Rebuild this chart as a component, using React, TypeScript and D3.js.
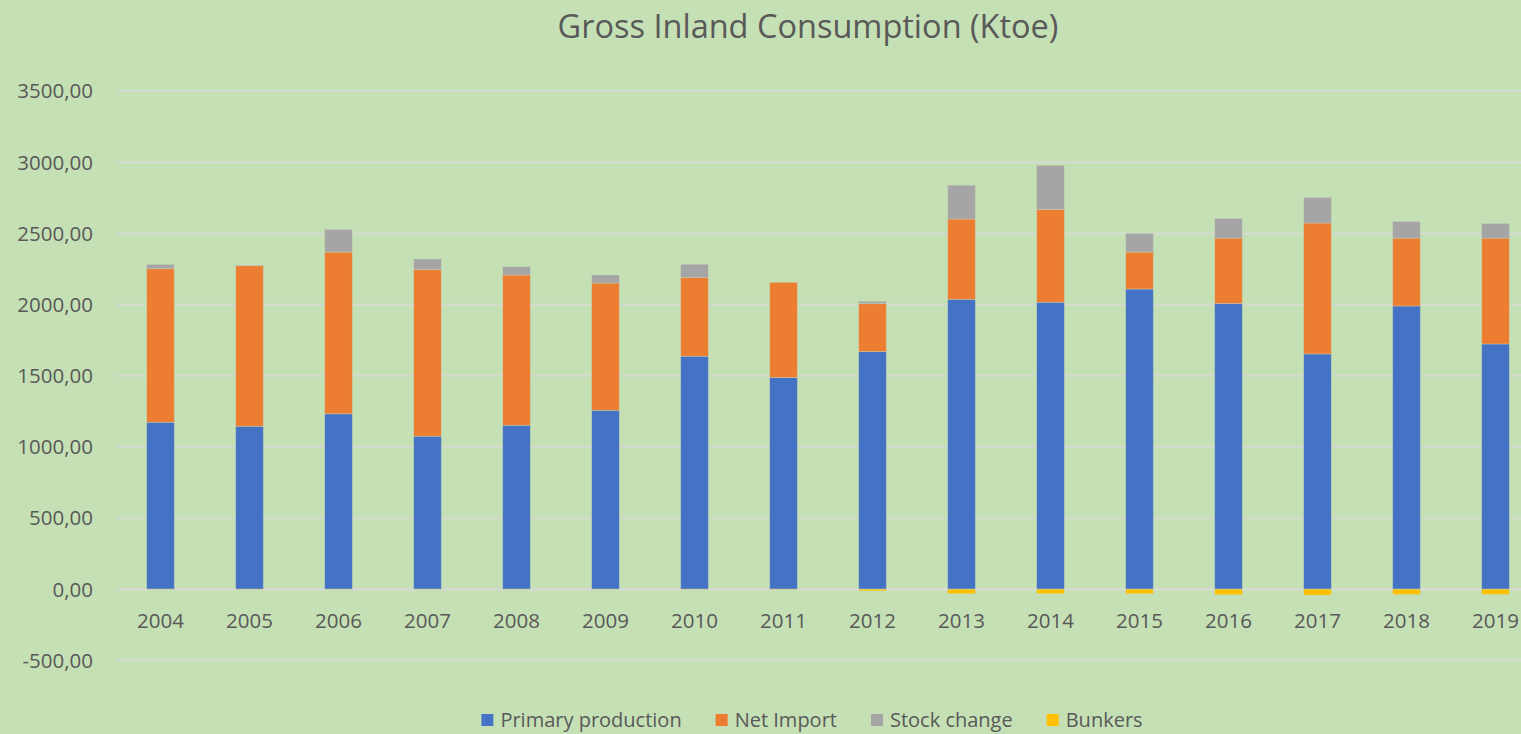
import React, { useEffect, useRef } from 'react'
import * as d3 from 'd3'

// data (Ktoe)
const years = ['2004', '2005', '2006', '2007', '2008', '2009', '2010', '2011', '2012', '2013', '2014', '2015', '2016', '2017', '2018', '2019']
const primaryProduction = [1173, 1145, 1232, 1075, 1152, 1257, 1637, 1487, 1669, 2037, 2016, 2109, 2007, 1653, 1990, 1723]
const netImport = [1079, 1128, 1137, 1170, 1056, 894, 554, 669, 337, 564, 653, 260, 460, 920, 477, 744]
const stockChange = [30, 4, 159, 75, 58, 57, 92, 0, 17, 238, 309, 131, 138, 180, 117, 103]
const bunkers = [-2, -2, -2, -2, -2, -2, -2, -3, -12, -32, -32, -32, -39, -42, -37, -37]

const seriesNames = ['Primary production', 'Net Import', 'Stock change', 'Bunkers']
const seriesColors = ['#4472C4', '#ED7D31', '#A5A5A5', '#FFC000']
const yTicks = [-500, 0, 500, 1000, 1500, 2000, 2500, 3000, 3500]

const W = 1521, H = 734
const font = "'Open Sans', sans-serif"
const textColor = '#595959'

const App = () => {
    const ref = useRef<SVGSVGElement>(null)

    useEffect(() => {
        const svg = d3.select(ref.current)
        svg.selectAll('*').remove()

        const rows = years.map((y, i) => ({
            year: y,
            'Primary production': primaryProduction[i],
            'Net Import': netImport[i],
            'Stock change': stockChange[i],
            'Bunkers': bunkers[i],
        }))

        const x = d3.scaleBand().domain(years).range([116, 1540]).paddingInner(0.69).paddingOuter(0.345)
        const y = d3.scaleLinear().domain([-500, 3500]).range([660.3, 91.1])

        svg.append('rect').attr('width', W).attr('height', H).attr('fill', '#C5E0B4')

        // title
        svg.append('text')
            .attr('x', 808).attr('y', 38)
            .attr('text-anchor', 'middle')
            .style('font-family', font).style('font-size', '32.5px')
            .attr('fill', textColor)
            .text('Gross Inland Consumption (Ktoe)')

        // gridlines
        svg.append('g').selectAll('line')
            .data(yTicks)
            .enter().append('line')
            .attr('x1', 116).attr('x2', W)
            .attr('y1', d => y(d)).attr('y2', d => y(d))
            .attr('stroke', '#D9D9D9')
            .attr('stroke-width', d => d === 0 ? 2 : 1.5)

        // y tick labels
        svg.append('g').selectAll('text')
            .data(yTicks)
            .enter().append('text')
            .attr('x', 93).attr('y', d => y(d))
            .attr('dy', '0.36em')
            .attr('text-anchor', 'end')
            .style('font-family', font).style('font-size', '20.5px')
            .attr('fill', textColor)
            .text(d => d.toFixed(2).replace('.', ','))

        // stacked bars
        const stacked = d3.stack<any>().keys(seriesNames).offset(d3.stackOffsetDiverging)(rows)
        svg.append('g').selectAll('g')
            .data(stacked)
            .enter().append('g')
            .attr('fill', (d, i) => seriesColors[i])
            .selectAll('rect')
            .data(d => d)
            .enter().append('rect')
            .attr('x', d => x(d.data.year)!)
            .attr('width', x.bandwidth())
            .attr('y', d => y(Math.max(d[0], d[1])))
            .attr('height', d => Math.abs(y(d[0]) - y(d[1])))
            .attr('stroke', 'rgba(200,220,190,0.5)')
            .attr('stroke-width', 0.75)

        // x labels
        svg.append('g').selectAll('text')
            .data(years)
            .enter().append('text')
            .attr('x', d => x(d)! + x.bandwidth() / 2)
            .attr('y', 628)
            .attr('text-anchor', 'middle')
            .style('font-family', font).style('font-size', '20.5px')
            .attr('fill', textColor)
            .text(d => d)

        // legend
        const legend = svg.append('g')
        const items = legend.selectAll('g')
            .data(seriesNames)
            .enter().append('g')
        items.append('rect')
            .attr('width', 12).attr('height', 12)
            .attr('y', 714)
            .attr('fill', (d, i) => seriesColors[i])
        const labels = items.append('text')
            .attr('x', 19).attr('y', 727)
            .style('font-family', font).style('font-size', '20px')
            .attr('fill', textColor)
            .text(d => d)
        const widths = labels.nodes().map(n => (n as SVGTextElement).getComputedTextLength())
        const gap = 34
        const total = d3.sum(widths) + widths.length * 19 + (widths.length - 1) * gap
        let cx = 812 - total / 2
        items.attr('transform', (d, i) => {
            const t = `translate(${cx},0)`
            cx += 19 + widths[i] + gap
            return t
        })
    }, [])

    return (
        <>
            <style>{'body{margin:0;overflow:hidden}'}</style>
            <svg ref={ref} width={W} height={H} style={{ display: 'block' }}></svg>
        </>
    )
}

export default App
